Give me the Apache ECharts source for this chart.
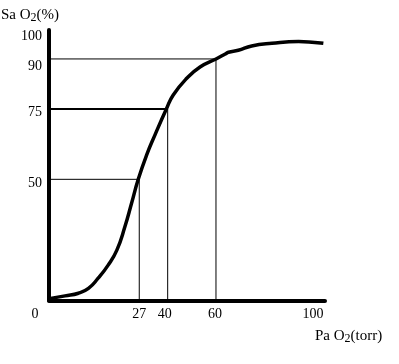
<!DOCTYPE html>
<html>
<head>
<meta charset="utf-8">
<script src="https://cdn.jsdelivr.net/npm/echarts@6/dist/echarts.min.js"></script>
<style>
html,body{margin:0;padding:0;background:#fff;}
#chart{width:399px;height:364px;}
</style>
</head>
<body>
<div id="chart"></div>
<script>
// ---- data ----
const paO2 = [0.5, 4.8, 8.8, 11.8, 14.7, 17.7, 20.3, 22.7, 24.7, 26.7, 30.4, 34.2, 39.4, 42.3, 47.9, 53.4, 60, 63.4, 64.6, 68.2, 73.1, 80.5, 90.3, 95.2, 99.4];
const saO2 = [0.8, 1.9, 3.0, 5.0, 9.2, 14.6, 20.8, 30.4, 40.1, 50, 58.7, 65.8, 75, 79.2, 84.2, 87.6, 90, 91.7, 92.3, 93.0, 94.5, 95.4, 96.0, 95.8, 95.4];
const refPaO2 = [27, 40, 60];
const refSaO2 = [50, 75, 90];
const xTicks = [0, 27, 40, 60, 100];
const yTicks = [50, 75, 90, 100];
const yLabel = 'SaO2(%)';
const xLabel = 'PaO2(torr)';

// ---- axis layout: the hand-drawn axes are unevenly spaced ----
// percent of axis length at which each tick value sits
const xWarpVals = [0, 27, 40, 60, 100];
const xWarpPos  = [0, 32.7, 43.0, 60.5, 100];
const yWarpVals = [0, 50, 75, 90, 100];
const yWarpPos  = [0, 44.8, 70.8, 89.3, 100];
function warp(v, vals, pos) {
  for (let i = 1; i < vals.length; i++) {
    if (v <= vals[i]) return pos[i-1] + (v - vals[i-1]) * (pos[i] - pos[i-1]) / (vals[i] - vals[i-1]);
  }
  return pos[pos.length - 1];
}
const wx = v => warp(v, xWarpVals, xWarpPos);
const wy = v => warp(v, yWarpVals, yWarpPos);

const FONT = "'Liberation Serif','Times New Roman',serif";
const xShift = [28, 0, 6, 2, 24];   // right padding (label nudges)
const yShift = [8, 6, 14, 12];      // top padding (label nudges)

const xRich = {}, yRich = {};
xTicks.forEach((t, i) => { xRich['x' + i] = {fontFamily: FONT, fontSize: 14, color: '#000', padding: [0, xShift[i], 0, 0]}; });
yTicks.forEach((t, i) => { yRich['y' + i] = {fontFamily: FONT, fontSize: 14, color: '#000', padding: [yShift[i], 0, 0, 0]}; });

const curve = paO2.map((x, i) => [wx(x), wy(saO2[i])]);

const series = [{
  type: 'line', data: curve, smooth: 0.5, showSymbol: false, silent: true,
  lineStyle: {color: '#000', width: 3.5}, z: 5
}];
refPaO2.forEach((x, i) => {
  const y = refSaO2[i];
  series.push({
    type: 'line', showSymbol: false, silent: true,
    data: [[0, wy(y)], [wx(x), wy(y)]],
    lineStyle: {color: '#000', width: y === 75 ? 2 : 1}, z: 3
  });
  series.push({
    type: 'line', showSymbol: false, silent: true,
    data: [[wx(x), wy(y)], [wx(x), 0]],
    lineStyle: {color: '#000', width: 1}, z: 3
  });
});

function splitSub(s) {
  // "SaO2(%)" -> "Sa O{sub|2}(%)"
  const m = s.match(/^(..)(O)2(.*)$/);
  return m[1] + ' ' + m[2] + '{sub|2}' + m[3];
}

const chart = echarts.init(document.getElementById('chart'), null, {renderer: 'canvas'});
chart.setOption({
  animation: false,
  backgroundColor: '#fff',
  grid: {left: 49, right: 74, top: 30, bottom: 63.5},
  xAxis: {
    type: 'value', min: 0, max: 100,
    axisLine: {show: true, lineStyle: {color: '#000', width: 4}},
    axisTick: {show: false}, splitLine: {show: false},
    axisLabel: {
      customValues: xTicks.map(wx), margin: 7,
      formatter: v => { const i = xTicks.findIndex(t => Math.abs(wx(t) - v) < 1e-6); return '{x' + i + '|' + xTicks[i] + '}'; },
      rich: xRich
    }
  },
  yAxis: {
    type: 'value', min: 0, max: 100,
    axisLine: {show: true, lineStyle: {color: '#000', width: 4}},
    axisTick: {show: false}, splitLine: {show: false},
    axisLabel: {
      customValues: yTicks.map(wy), margin: 7,
      formatter: v => { const i = yTicks.findIndex(t => Math.abs(wy(t) - v) < 1e-6); return '{y' + i + '|' + yTicks[i] + '}'; },
      rich: yRich
    }
  },
  graphic: [
    {type: 'text', left: 1, top: 8, style: {
      text: splitSub(yLabel), fontFamily: FONT, fontSize: 15, fill: '#000',
      rich: {sub: {fontFamily: FONT, fontSize: 12, fill: '#000', padding: [5, 0, 0, 0]}}
    }},
    {type: 'text', left: 315, top: 329, style: {
      text: splitSub(xLabel), fontFamily: FONT, fontSize: 15, fill: '#000',
      rich: {sub: {fontFamily: FONT, fontSize: 12, fill: '#000', padding: [5, 0, 0, 0]}}
    }}
  ],
  series: series
});
</script>
</body>
</html>
